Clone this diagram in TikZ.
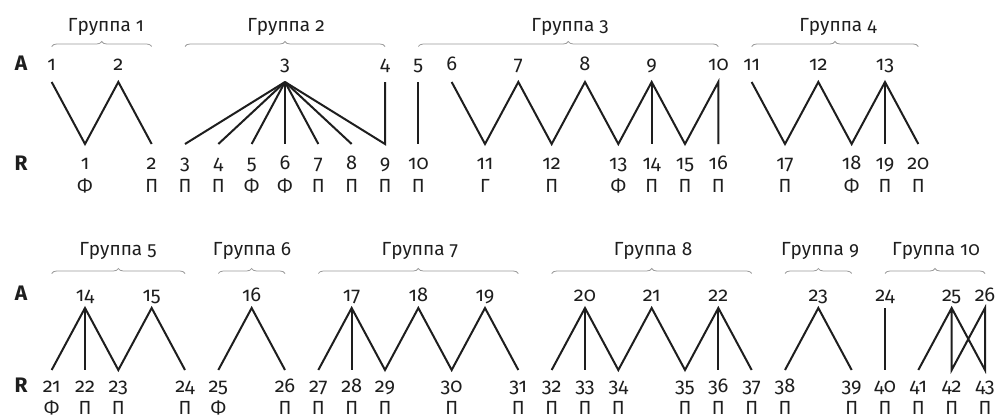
\documentclass[tikz,border=0pt]{standalone}
\usepackage{fontspec}
\setmainfont{Fira Sans}[Numbers=OldStyle]
\usetikzlibrary{decorations.pathreplacing}
\definecolor{ink}{HTML}{1E1E1E}
\definecolor{bracegray}{HTML}{9A9A9A}
\begin{document}
\begin{tikzpicture}[x=1pt,y=-1pt,
  link/.style={line width=2pt, draw=ink, line join=miter},
  grp/.style={decorate, decoration={brace, amplitude=5pt}, draw=bracegray, line width=0.8pt},
  num/.style={font=\fontsize{20}{20}\selectfont, text=ink, anchor=base, inner sep=0pt},
  lett/.style={font=\fontsize{19}{19}\selectfont, text=ink, anchor=base, inner sep=0pt},
  title/.style={font=\fontsize{19}{19}\selectfont, text=ink, anchor=base, inner sep=0pt},
  rowlab/.style={font=\bfseries\fontsize{21}{21}\selectfont, text=ink, anchor=base, inner sep=0pt}]
\useasboundingbox (0,0) rectangle (1000,418);
% ---------- top row ----------
\node[rowlab] (rowA1) at (21,70) {A};
\node[rowlab] (rowR1) at (21,170) {R};
\foreach \i/\k in {1/-1,2/1,3/6,4/9,5/10,6/11,7/13,8/15,9/17,10/19,11/20,12/22,13/24}{
  \node[num] (a\i) at ({85+33.333*\k},70) {\i};
  \coordinate (pa\i) at ({85+33.333*\k},82);
}
\foreach \i/\k/\l in {1/0/Ф,2/2/П,3/3/П,4/4/П,5/5/Ф,6/6/Ф,7/7/П,8/8/П,9/9/П,10/10/П,
  11/12/Г,12/14/П,13/16/Ф,14/17/П,15/18/П,16/19/П,17/21/П,18/23/Ф,19/24/П,20/25/П}{
  \node[num] (r\i) at ({85+33.333*\k},169) {\i};
  \node[lett] (t\i) at ({85+33.333*\k},192) {\l};
  \coordinate (pr\i) at ({85+33.333*\k},144);
}
\draw[link] (pa1) -- (pr1) -- (pa2) -- (pr2);
\draw[link] (pa4) -- (pr9) -- (pa3);
\foreach \r in {3,4,5,6,7,8}{\draw[link] (pa3) -- (pr\r);}
\draw[link] (pa5) -- (pr10);
\draw[link] (pa6) -- (pr11) -- (pa7) -- (pr12) -- (pa8) -- (pr13) -- (pa9) -- (pr15) -- (pa10) -- (pr16);
\draw[link] (pa9) -- (pr14);
\draw[link] (pa11) -- (pr17) -- (pa12) -- (pr18) -- (pa13) -- (pr20);
\draw[link] (pa13) -- (pr19);
\draw[grp] (51.7,46.5) -- (151.7,46.5);
\draw[grp] (185,46.5) -- (385,46.5);
\draw[grp] (418.3,46.5) -- (718.3,46.5);
\draw[grp] (751.7,46.5) -- (918.3,46.5);
\node[title] (g1) at (106,31) {Группа 1};
\node[title] (g2) at (286,31) {Группа 2};
\node[title] (g3) at (570,31) {Группа 3};
\node[title] (g4) at (838,31) {Группа 4};
% ---------- bottom row ----------
\node[rowlab] (rowA2) at (21,300) {A};
\node[rowlab] (rowR2) at (21,392) {R};
\foreach \i/\k in {14/0,15/2,16/5,17/8,18/10,19/12,20/15,21/17,22/19,23/22,24/24,25/26,26/27}{
  \node[num] (a\i) at ({85+33.333*\k},301) {\i};
  \coordinate (pa\i) at ({85+33.333*\k},308);
}
\foreach \i/\k/\l in {21/-1/Ф,22/0/П,23/1/П,24/3/П,25/4/Ф,26/6/П,27/7/П,28/8/П,29/9/П,30/11/П,
  31/13/П,32/14/П,33/15/П,34/16/П,35/18/П,36/19/П,37/20/П,38/21/П,39/23/П,40/24/П,41/25/П,42/26/П,43/27/П}{
  \node[num] (r\i) at ({85+33.333*\k},392) {\i};
  \node[lett] (t\i) at ({85+33.333*\k},414) {\l};
  \coordinate (pr\i) at ({85+33.333*\k},370);
}
\draw[link] (pr21) -- (pa14) -- (pr23) -- (pa15) -- (pr24);
\draw[link] (pa14) -- (pr22);
\draw[link] (pr25) -- (pa16) -- (pr26);
\draw[link] (pr27) -- (pa17) -- (pr29) -- (pa18) -- (pr30) -- (pa19) -- (pr31);
\draw[link] (pa17) -- (pr28);
\draw[link] (pr32) -- (pa20) -- (pr34) -- (pa21) -- (pr35) -- (pa22) -- (pr37);
\draw[link] (pa20) -- (pr33);
\draw[link] (pa22) -- (pr36);
\draw[link] (pr38) -- (pa23) -- (pr39);
\draw[link] (pa24) -- (pr40);
\draw[link] (pr41) -- (pa25) -- (pr43) -- (pa26) -- (pr42) -- (pa25);
\draw[grp] (51.7,273.5) -- (185,273.5);
\draw[grp] (218.3,273.5) -- (285,273.5);
\draw[grp] (318.3,273.5) -- (518.3,273.5);
\draw[grp] (551.7,273.5) -- (751.7,273.5);
\draw[grp] (785,273.5) -- (851.7,273.5);
\draw[grp] (885,273.5) -- (985,273.5);
\node[title] (g5) at (118,255) {Группа 5};
\node[title] (g6) at (252,255) {Группа 6};
\node[title] (g7) at (420,255) {Группа 7};
\node[title] (g8) at (653,255) {Группа 8};
\node[title] (g9) at (820,255) {Группа 9};
\node[title] (g10) at (936,255) {Группа 10};
\end{tikzpicture}
\end{document}
